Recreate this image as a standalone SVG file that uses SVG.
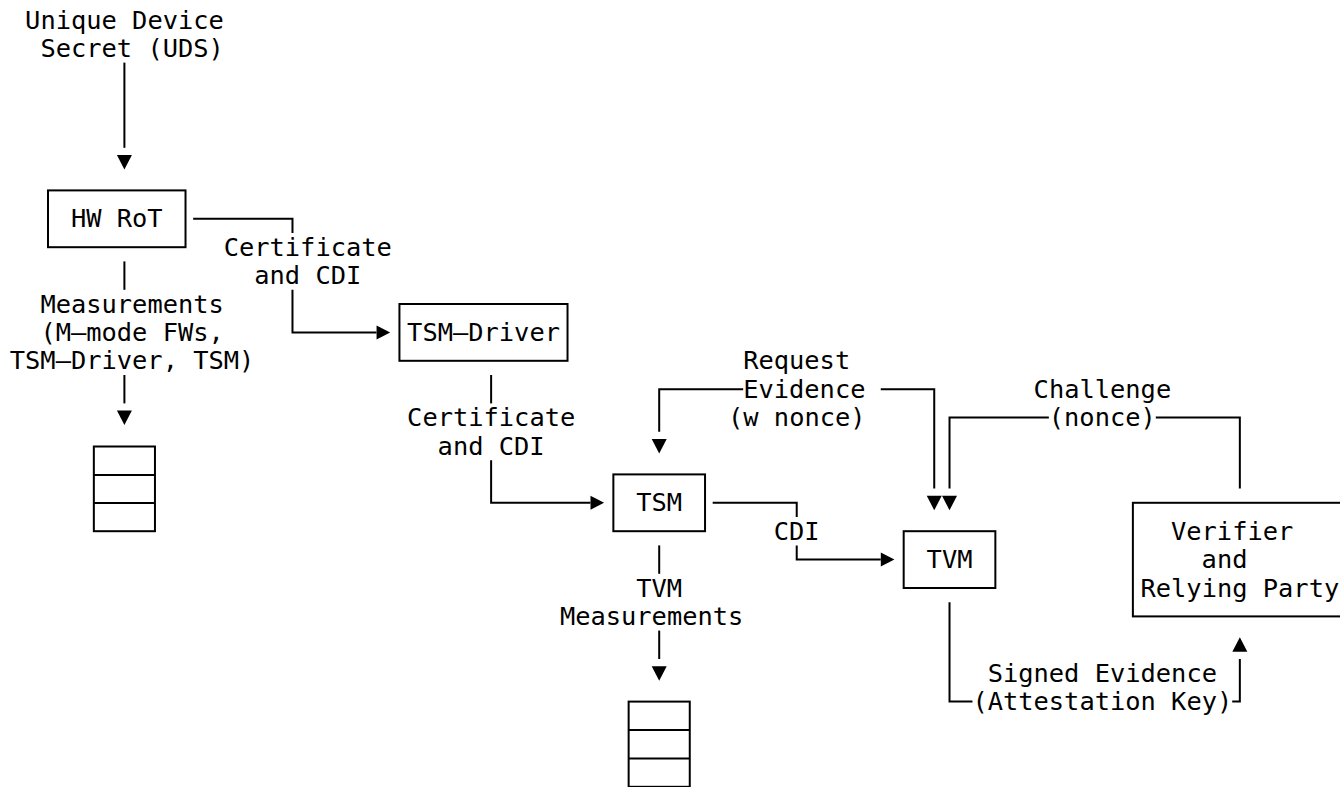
<svg xmlns="http://www.w3.org/2000/svg" width="1340" height="787" viewBox="0 0 1340 787">
  <!-- Character-grid layout: column pitch 15.28px (x0 = 9.8), row pitch 28.4px (row 0 centre y = 20) -->
  <style>
    text { font-family: "DejaVu Sans Mono", "Liberation Mono", monospace; font-size: 25.4px; fill: #000; white-space: pre; }
    .box { fill: none; stroke: #000; stroke-width: 2; }
    .wire { fill: none; stroke: #000; stroke-width: 2; stroke-linejoin: miter; }
    .head { fill: #000; }
  </style>
  <defs>
    <path id="ad" class="head" d="M-7.5,-7 L7.5,-7 L0,7.5 Z"/>
    <path id="ar" class="head" d="M-7.6,-7 L-7.6,7 L6,0 Z"/>
    <path id="au" class="head" d="M-7.5,7 L7.5,7 L0,-7.5 Z"/>
  </defs>

  <rect width="1340" height="787" fill="#fff"/>

  <!-- source of the device secret -->
  <g id="uds">
    <text x="25.1" y="28.5">Unique Device</text>
    <text x="40.4" y="56.9">Secret (UDS)</text>
  </g>

  <g id="hw-rot">
    <rect class="box" x="48" y="190.4" width="137.52" height="56.8"/>
    <text x="70.9" y="227.3">HW RoT</text>
  </g>

  <g id="tsm-driver">
    <rect class="box" x="399.44" y="304" width="168.08" height="56.8"/>
    <text x="407.1" y="340.9">TSM–Driver</text>
  </g>

  <g id="tsm">
    <rect class="box" x="613.36" y="474.4" width="91.68" height="56.8"/>
    <text x="636.3" y="511.3">TSM</text>
  </g>

  <g id="tvm">
    <rect class="box" x="903.68" y="531.2" width="91.68" height="56.8"/>
    <text x="926.6" y="568.1">TVM</text>
  </g>

  <g id="verifier">
    <rect class="box" x="1132.88" y="502.8" width="213.92" height="113.6"/>
    <text x="1171" y="539.7">Verifier</text>
    <text x="1201.6" y="568.1">and</text>
    <text x="1140.5" y="596.5">Relying Party</text>
  </g>

  <g id="measurement-log-1">
    <rect class="box" x="93.84" y="446.5" width="61.12" height="84.7"/>
    <line class="box" x1="93.84" y1="474.9" x2="154.96" y2="474.9"/>
    <line class="box" x1="93.84" y1="503.1" x2="154.96" y2="503.1"/>
  </g>

  <g id="measurement-log-2">
    <rect class="box" x="628.64" y="701.6" width="61.12" height="85.2"/>
    <line class="box" x1="628.64" y1="730" x2="689.76" y2="730"/>
    <line class="box" x1="628.64" y1="758.4" x2="689.76" y2="758.4"/>
  </g>

  <g id="connectors">
    <!-- UDS -> HW RoT -->
    <line class="wire" x1="124.4" y1="62.6" x2="124.4" y2="147.8"/>
    <use href="#ad" x="124.4" y="162"/>

    <!-- HW RoT -> TSM-Driver -->
    <polyline class="wire" points="193.16,218.8 292.48,218.8 292.48,233"/>
    <polyline class="wire" points="292.48,289.8 292.48,332.4 376.52,332.4"/>
    <use href="#ar" x="384.16" y="332.4"/>
    <text x="223.7" y="255.7">Certificate</text>
    <text x="254.3" y="284.1">and CDI</text>

    <!-- HW RoT -> measurement log -->
    <line class="wire" x1="124.4" y1="261.4" x2="124.4" y2="289.8"/>
    <line class="wire" x1="124.4" y1="375" x2="124.4" y2="403.4"/>
    <use href="#ad" x="124.4" y="417.6"/>
    <text x="40.4" y="312.5">Measurements</text>
    <text x="40.4" y="340.9">(M–mode FWs,</text>
    <text x="9.8" y="369.3">TSM–Driver, TSM)</text>

    <!-- TSM-Driver -> TSM -->
    <line class="wire" x1="491.12" y1="375" x2="491.12" y2="403.4"/>
    <polyline class="wire" points="491.12,460.2 491.12,502.8 590.44,502.8"/>
    <use href="#ar" x="598.08" y="502.8"/>
    <text x="407.1" y="426.1">Certificate</text>
    <text x="437.6" y="454.5">and CDI</text>

    <!-- TSM -> TVM -->
    <polyline class="wire" points="712.68,502.8 796.72,502.8 796.72,517"/>
    <polyline class="wire" points="796.72,545.4 796.72,559.6 880.76,559.6"/>
    <use href="#ar" x="888.4" y="559.6"/>
    <text x="773.8" y="539.7">CDI</text>

    <!-- TSM -> measurement log -->
    <line class="wire" x1="659.2" y1="545.4" x2="659.2" y2="573.8"/>
    <line class="wire" x1="659.2" y1="630.6" x2="659.2" y2="659"/>
    <use href="#ad" x="659.2" y="673.2"/>
    <text x="636.3" y="596.5">TVM</text>
    <text x="559.9" y="624.9">Measurements</text>

    <!-- Request evidence: to TSM and to TVM -->
    <polyline class="wire" points="743.2,389.2 659.2,389.2 659.2,431.8"/>
    <use href="#ad" x="659.2" y="446"/>
    <polyline class="wire" points="880.76,389.2 934.24,389.2 934.24,488.6"/>
    <use href="#ad" x="934.24" y="502.8"/>
    <text x="743.2" y="369.3">Request</text>
    <text x="743.2" y="397.7">Evidence</text>
    <text x="728" y="426.1">(w nonce)</text>

    <!-- Challenge from verifier to TVM -->
    <polyline class="wire" points="1048.84,417.6 949.52,417.6 949.52,488.6"/>
    <use href="#ad" x="949.52" y="502.8"/>
    <polyline class="wire" points="1155.8,417.6 1239.84,417.6 1239.84,488.6"/>
    <text x="1033.6" y="397.7">Challenge</text>
    <text x="1048.8" y="426.1">(nonce)</text>

    <!-- Signed evidence from TVM to verifier -->
    <polyline class="wire" points="949.52,602.2 949.52,701.6 972.44,701.6"/>
    <polyline class="wire" points="1232.2,701.6 1239.84,701.6 1239.84,659"/>
    <use href="#au" x="1239.84" y="644.8"/>
    <text x="987.7" y="681.7">Signed Evidence</text>
    <text x="972.4" y="710.1">(Attestation Key)</text>
  </g>
</svg>
